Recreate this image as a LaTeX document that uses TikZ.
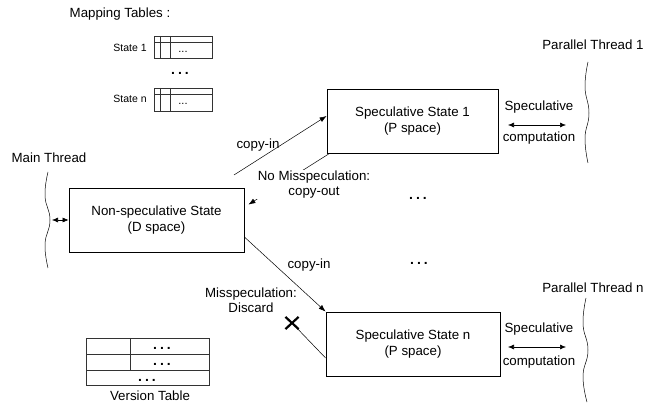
\documentclass[tikz,border=0pt]{standalone}
\usepackage{fontspec}
\setmainfont{Liberation Sans}
\usetikzlibrary{arrows.meta,shapes.misc}
\newcommand{\bigell}{.\hspace{3pt}.\hspace{3pt}.}
\begin{document}
\begin{tikzpicture}[x=1pt,y=-1pt,
  font=\fontsize{13.3}{16}\selectfont,
  statebox/.style={draw, line width=0.8pt, align=center, inner sep=0pt},
  conn/.style={line width=0.5pt, -{Latex[length=7pt,width=5pt]}},
  dbl/.style={line width=0.6pt, {Latex[length=6pt,width=5pt]}-{Latex[length=6pt,width=5pt]}},
  lbl/.style={align=center, inner sep=1pt},
  lbltwo/.style={align=center, inner sep=1pt, font=\fontsize{13.3}{15}\selectfont},
  small/.style={font=\fontsize{10.5}{12}\selectfont},
  tinydots/.style={font=\fontsize{11}{11}\selectfont, inner sep=0pt, anchor=base, text height=2pt, text depth=0pt},
  bigdots/.style={font=\fontsize{14}{14}\selectfont\bfseries, inner sep=0pt, anchor=base, text height=3pt, text depth=0pt},
  tbl/.style={draw=black!80, line width=0.7pt},
  wave/.style={line width=0.5pt}
  ]
\useasboundingbox (0,0) rectangle (656,411);

% ---------- mapping tables ----------
\node[lbl] (mtitle) at (120,14) {Mapping Tables :};
\node[small] (st1) at (130,48) {State 1};
\draw[tbl] (154,36) rectangle (212,58);
\draw[tbl] (154,42) -- (212,42);
\draw[tbl] (160,36) -- (160,58);
\draw[tbl] (170,36) -- (170,58);
\node[tinydots] (md1) at (183,53) {...};
\node[bigdots] (mdots) at (180,74.5) {\bigell};
\node[small] (stn) at (130,99) {State n};
\draw[tbl] (154,88) rectangle (212,111);
\draw[tbl] (154,94) -- (212,94);
\draw[tbl] (160,88) -- (160,111);
\draw[tbl] (170,88) -- (170,111);
\node[tinydots] (mdn) at (183,105) {...};

% ---------- main thread ----------
\node[lbl] (mt) at (49,158) {Main Thread};
\draw[wave] plot[smooth, tension=0.8] coordinates {(48,172) (45,196) (50,220) (45,244) (48,268)};
\node[statebox, minimum width=175pt, minimum height=64pt] (ns) at (156.5,220) {Non-speculative State\\(D space)};
\coordinate (mwave) at (52,220);
\draw[dbl] (mwave) -- (ns.west);

% ---------- speculative states ----------
\node[statebox, minimum width=171pt, minimum height=64pt] (s1) at (412.5,121) {Speculative State 1\\(P space)};
\node[statebox, minimum width=174pt, minimum height=64pt] (sn) at (413,344) {Speculative State n\\(P space)};

% thread 1
\node[lbl] (pt1) at (593,45) {Parallel Thread 1};
\draw[wave] plot[smooth, tension=0.8] coordinates {(588,62) (585,87) (589,113) (585,138) (588,163)};
\node[lbl] (sc1a) at (539,107) {Speculative};
\node[lbl] (sc1b) at (539,138) {computation};
\coordinate (a1l) at (508,125);
\coordinate (a1r) at (566,125);
\draw[dbl] (a1l) -- (a1r);

% thread n
\node[lbl] (ptn) at (593,288) {Parallel Thread n};
\draw[wave] plot[smooth, tension=0.8] coordinates {(586,298) (583,324) (588,350) (583,376) (587,402)};
\node[lbl] (scna) at (539,329) {Speculative};
\node[lbl] (scnb) at (539,362) {computation};
\coordinate (anl) at (508,347);
\coordinate (anr) at (566,347);
\draw[dbl] (anl) -- (anr);

% ---------- connectors ----------
\coordinate (ci1) at (234,175);
\draw[conn] (ci1) -- ([yshift=5pt]s1.west);
\node[lbl] (lci1) at (258,145) {copy-in};

\draw[conn] ([xshift=3pt]s1.south west) -- ([xshift=4pt,yshift=-17pt]ns.north east);
\node[lbltwo, fill=white] (lco) at (314,184.5) {No Misspeculation:\\copy-out};

\draw[conn] ([yshift=-17pt]ns.east) -- (sn.north west);
\node[lbl] (lci2) at (309,265) {copy-in};

\node[cross out, draw, line width=2.2pt, minimum width=11pt, minimum height=10pt, inner sep=0pt] (xx) at (292,323) {};
\draw[line width=0.5pt] ([yshift=-14pt]sn.west) -- (xx.center);
\node[lbltwo] (lms) at (251,300.5) {Misspeculation:\\Discard};

% ---------- ellipses ----------
\node[bigdots] (e1) at (418,199.5) {\bigell};
\node[bigdots] (e2) at (419,264.5) {\bigell};

% ---------- version table ----------
\draw[tbl] (86,338) rectangle (209,385);
\draw[tbl] (86,354) -- (209,354);
\draw[tbl] (86,370) -- (209,370);
\draw[tbl] (130,338) -- (130,370);
\node[bigdots] (v1) at (162,350) {\bigell};
\node[bigdots] (v2) at (162,365.5) {\bigell};
\node[bigdots] (v3) at (147,381.5) {\bigell};
\node[lbl] (vt) at (150,396) {Version Table};
\end{tikzpicture}
\end{document}
